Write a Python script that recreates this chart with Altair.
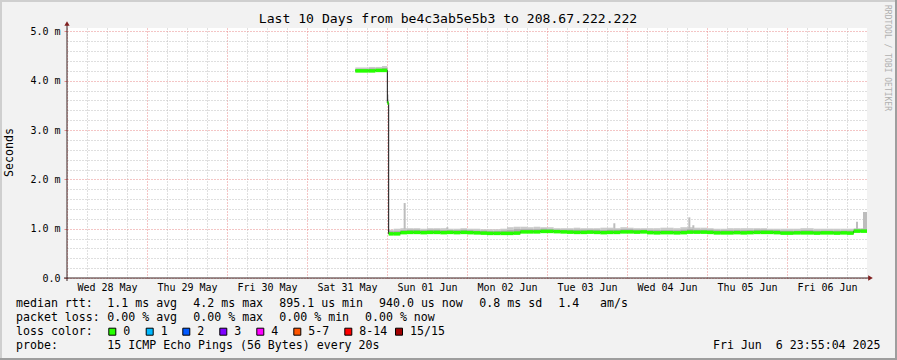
import altair as alt
import pandas as pd

MONO = "DejaVu Sans Mono"

# ---------------- text content ----------------
TITLE = "Last 10 Days from be4c3ab5e5b3 to 208.67.222.222"
Y_TITLE = "Seconds"
WATERMARK = "RRDTOOL / TOBI OETIKER"
DAYS = ["Wed 28 May", "Thu 29 May", "Fri 30 May", "Sat 31 May", "Sun 01 Jun",
        "Mon 02 Jun", "Tue 03 Jun", "Wed 04 Jun", "Thu 05 Jun", "Fri 06 Jun"]
LEGEND_RTT = ["median rtt:", "1.1 ms avg", "4.2 ms max", "895.1 us min",
              "940.0 us now", "0.8 ms sd", "1.4", "am/s"]
LEGEND_LOSS = ["packet loss:", "0.00 % avg", "0.00 % max", "0.00 % min", "0.00 % now"]
LOSS_TITLE = "loss color:"
LOSS_LABELS = ["0", "1", "2", "3", "4", "5-7", "8-14", "15/15"]
LOSS_COLORS = ["#26ff00", "#00b8ff", "#0059ff", "#7e00ff", "#ff00ff",
               "#ff5500", "#ff0000", "#a10000"]
PROBE_TITLE = "probe:"
PROBE_TEXT = "15 ICMP Echo Pings (56 Bytes) every 20s"
DATE_TEXT = "Fri Jun \u00a06 23:55:04 2025"

# ---------------- data (hours since Wed 28 May 00:00, values in ms) ----------------
END_HOURS = 240

T_HIGH = [86.5, 88.5, 90.5, 92.5, 94.5]
MED_HIGH = [4.20, 4.20, 4.20, 4.21, 4.21]
HI_OUT_HIGH = [4.27, 4.27, 4.28, 4.28, 4.30]
HI_IN_HIGH = [4.24, 4.24, 4.25, 4.24, 4.26]

T_DROP = [96.1]
MED_DROP = [3.55]
HI_OUT_DROP = [3.72]
HI_IN_DROP = [3.62]

T_LOW = [96.5] + list(range(98, 240, 2))
MED_LOW = [0.895, 0.895, 0.92, 0.925, 0.925, 0.92, 0.925, 0.925, 0.92, 0.925,
           0.92, 0.925, 0.92, 0.915, 0.91, 0.905, 0.905, 0.905, 0.905, 0.91,
           0.935, 0.935, 0.935, 0.945, 0.945, 0.94, 0.935, 0.93, 0.925, 0.925,
           0.93, 0.925, 0.92, 0.925, 0.925, 0.935, 0.935, 0.93, 0.935, 0.92,
           0.915, 0.92, 0.92, 0.915, 0.92, 0.93, 0.93, 0.93, 0.925, 0.915,
           0.915, 0.915, 0.92, 0.915, 0.92, 0.925, 0.925, 0.925, 0.92, 0.91,
           0.91, 0.915, 0.915, 0.915, 0.91, 0.915, 0.915, 0.91, 0.915, 0.91,
           0.95, 0.95]
HI_OUT_LOW = [0.98, 1.0, 1.01, 1.01, 1.01, 1.0, 1.01, 1.01, 1.01, 1.0,
              1.0, 1.01, 1.0, 1.0, 0.99, 0.99, 0.99, 1.0, 1.03, 1.04,
              1.04, 1.03, 1.04, 1.03, 1.03, 1.01, 1.01, 1.01, 1.02, 1.01,
              1.01, 1.01, 1.02, 1.02, 1.01, 1.03, 1.02, 1.01, 1.01, 1.01,
              1.01, 1.02, 1.02, 1.01, 1.03, 1.03, 1.02, 1.02, 1.01, 1.0,
              1.0, 1.01, 1.01, 1.01, 1.01, 1.01, 1.01, 1.0, 1.0, 1.0,
              1.0, 1.0, 1.01, 1.01, 1.0, 1.0, 1.0, 1.0, 1.0, 1.0,
              1.01, 1.01]
HI_IN_LOW = [0.95, 0.95, 0.97, 0.98, 0.98, 0.97, 0.98, 0.98, 0.97, 0.97,
             0.97, 0.98, 0.97, 0.96, 0.96, 0.95, 0.95, 0.96, 0.97, 0.99,
             0.99, 0.99, 0.99, 1.0, 0.99, 0.98, 0.98, 0.98, 0.98, 0.98,
             0.98, 0.98, 0.97, 0.98, 0.98, 0.99, 0.99, 0.98, 0.98, 0.97,
             0.97, 0.97, 0.97, 0.97, 0.98, 0.99, 0.98, 0.98, 0.98, 0.97,
             0.97, 0.97, 0.97, 0.97, 0.97, 0.98, 0.98, 0.97, 0.97, 0.96,
             0.96, 0.96, 0.97, 0.97, 0.96, 0.96, 0.96, 0.96, 0.96, 0.96,
             0.99, 0.99]

SPIKE_T = [101.0, 113.8, 163.9, 186.4, 187.6, 236.7, 238.8, 239.4]
SPIKE_LO = [0.99, 0.99, 1.0, 1.0, 1.0, 0.99, 0.99, 0.99]
SPIKE_HI = [1.52, 1.03, 1.11, 1.23, 1.07, 1.14, 1.34, 1.34]
SPIKE_W = 0.6

# ---------------- tables ----------------
T_ALL = T_HIGH + T_DROP + T_LOW
smoke_df = pd.DataFrame({
    "t": T_ALL,
    "t2": T_ALL[1:] + [END_HOURS],
    "med": MED_HIGH + MED_DROP + MED_LOW,
    "hi_out": HI_OUT_HIGH + HI_OUT_DROP + HI_OUT_LOW,
    "hi_in": HI_IN_HIGH + HI_IN_DROP + HI_IN_LOW,
})
line_df = pd.DataFrame({
    "t": T_ALL + [END_HOURS],
    "med": MED_HIGH + MED_DROP + MED_LOW + [MED_LOW[-1]],
})
spike_df = pd.DataFrame({
    "t": SPIKE_T,
    "t2": [t + SPIKE_W for t in SPIKE_T],
    "lo": SPIKE_LO,
    "hi": SPIKE_HI,
})
ONE = pd.DataFrame({"k": [0]})

# ---------------- style ----------------
BACK = "#f2f2f2"
GRID = "#bebebe"
MGRID = "#e88a8a"
AXIS_COL = "#3a2424"
ARROW = "#801f1f"
SHADE_A = "#cfcfcf"
SHADE_B = "#9e9e9e"
LEFT, TOP = 67, 28          # plot origin in the page
W, H = 800, 250

day_list = "[" + ",".join("'" + d + "'" for d in DAYS) + "]"
XAXIS = alt.Axis(
    values=list(range(0, END_HOURS, 6)), title=None, domain=False, ticks=False,
    tickSize=0, labelPadding=4, labelFont=MONO, labelFontSize=10, labelColor="#000000",
    labelExpr=f"datum.value % 24 == 12 ? {day_list}[floor(datum.value / 24)] : ''",
    labelOverlap=False, labelFlush=False, grid=True,
    gridColor={"condition": {"test": "datum.value % 24 == 0", "value": MGRID}, "value": GRID},
    gridDash=[1, 2], gridWidth=1,
)
MAJ = "abs(datum.value - round(datum.value)) < 0.01"
YAXIS = alt.Axis(
    values=[i / 5 for i in range(26)], title=None, domain=False, ticks=True, tickSize=3,
    tickColor={"condition": {"test": MAJ, "value": MGRID}, "value": "transparent"},
    labelPadding=4, labelFont=MONO, labelFontSize=10, labelColor="#000000",
    labelExpr=f"datum.value < 0.01 ? '0.0' : ({MAJ} ? format(datum.value, '.1f') + ' m' : '')",
    labelOverlap=False, labelFlush=False, grid=True,
    gridColor={"condition": {"test": MAJ, "value": MGRID}, "value": GRID},
    gridDash=[1, 2], gridWidth=1,
)
XSCALE = alt.Scale(domain=[0, END_HOURS], nice=False, zero=False)
YSCALE = alt.Scale(domain=[0, 5.07], nice=False, zero=True)


def X(f):
    return alt.X(f"{f}:Q", scale=XSCALE, axis=XAXIS)


def Y(f):
    return alt.Y(f"{f}:Q", scale=YSCALE, axis=YAXIS)


smoke_out = alt.Chart(smoke_df).mark_rect(color="#cacaca").encode(
    x=X("t"), x2="t2", y=Y("med"), y2="hi_out")
smoke_in = alt.Chart(smoke_df).mark_rect(color="#acacac").encode(
    x=X("t"), x2="t2", y=Y("med"), y2="hi_in")
spikes = alt.Chart(spike_df).mark_rect(color="#bdbdbd").encode(
    x=X("t"), x2="t2", y=Y("lo"), y2="hi")
black = alt.Chart(line_df).mark_line(interpolate="step-after", color="#111111",
                                     strokeWidth=1).encode(x=X("t"), y=Y("med"))
green = alt.Chart(smoke_df).mark_rule(color=LOSS_COLORS[0], strokeWidth=3.5).encode(
    x=X("t"), x2="t2", y=Y("med"))


def rule(x, y, x2=None, y2=None, color="#000", width=1):
    enc = {"x": alt.value(x - LEFT), "y": alt.value(y - TOP)}
    if x2 is not None:
        enc["x2"] = alt.value(x2 - LEFT)
    if y2 is not None:
        enc["y2"] = alt.value(y2 - TOP)
    return alt.Chart(ONE).mark_rule(color=color, strokeWidth=width).encode(**enc)


def txt(s, x, y, size=11.6, align="left", color="#000000", angle=0):
    props = dict(font=MONO, fontSize=size, align=align, baseline="middle", color=color)
    if angle:
        props["angle"] = angle
    return alt.Chart(ONE).mark_text(**props).encode(
        x=alt.value(x - LEFT), y=alt.value(y - TOP), text=alt.value(s))


deco = []
# frame
deco.append(rule(0, 1, x2=897, color=SHADE_A, width=2))
deco.append(rule(1, 0, y2=360, color=SHADE_A, width=2))
deco.append(rule(0, 359, x2=897, color=SHADE_B, width=2))
deco.append(rule(896, 0, y2=360, color=SHADE_B, width=2))
# axes lines and arrows
deco.append(rule(64, 278, x2=869, color=AXIS_COL))
deco.append(rule(67, 281, y2=25, color=AXIS_COL))
deco.append(alt.Chart(ONE).mark_point(shape="triangle-right", filled=True, size=28,
                                      color=ARROW, opacity=1).encode(
    x=alt.value(870.5 - LEFT), y=alt.value(278 - TOP)))
deco.append(alt.Chart(ONE).mark_point(shape="triangle-up", filled=True, size=28,
                                      color=ARROW, opacity=1).encode(
    x=alt.value(67 - LEFT), y=alt.value(23.5 - TOP)))
# titles
deco.append(txt(TITLE, 448, 19, size=13.1, align="center"))
deco.append(txt(Y_TITLE, 10, 152.5, size=11.6, align="center", angle=270))
deco.append(txt(WATERMARK, 887, 58, size=8, align="center", color="#b0b0b0", angle=90))
# legend lines
RTT_X = [16, 107.3, 193.3, 279.3, 379, 479.3, 558.3, 600]
for s, x in zip(LEGEND_RTT, RTT_X):
    deco.append(txt(s, x, 303.5))
LOSS_TXT_X = [16, 107.3, 193.3, 279.3, 365]
for s, x in zip(LEGEND_LOSS, LOSS_TXT_X):
    deco.append(txt(s, x, 318.3))
deco.append(txt(LOSS_TITLE, 16, 331.8))
SQUARE_X = [108.3, 145.7, 182.3, 219.3, 256.3, 293.3, 344.3, 395]
for lab, col, x in zip(LOSS_LABELS, LOSS_COLORS, SQUARE_X):
    deco.append(alt.Chart(ONE).mark_rect(fill=col, stroke="#000000", strokeWidth=1).encode(
        x=alt.value(x + 0.5 - LEFT), x2=alt.value(x + 7.5 - LEFT),
        y=alt.value(328.2 - TOP), y2=alt.value(335.2 - TOP)))
    deco.append(txt(lab, x + 15, 331.8))
deco.append(txt(PROBE_TITLE, 16, 346))
deco.append(txt(PROBE_TEXT, 107.3, 346))
deco.append(txt(DATE_TEXT, 880.5, 346, align="right"))

chart = alt.layer(smoke_out, smoke_in, spikes, black, green, *deco).properties(
    width=W, height=H,
    padding={"left": LEFT, "top": TOP, "right": 897 - LEFT - W, "bottom": 360 - TOP - H},
    autosize=alt.AutoSizeParams(type="none"),
    background=BACK,
).configure_view(fill="white", strokeWidth=0)

chart.save("out.html", embed_options={"renderer": "svg", "actions": False})
